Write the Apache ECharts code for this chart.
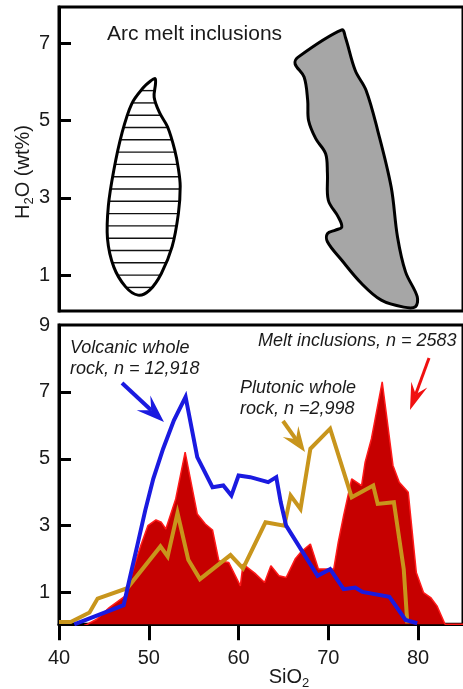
<!DOCTYPE html>
<html>
<head>
<meta charset="utf-8">
<script src="https://cdn.jsdelivr.net/npm/echarts@6/dist/echarts.min.js"></script>
<style>
  html, body { margin: 0; padding: 0; background: #fff; }
  #chart { width: 463px; height: 689px; }
</style>
</head>
<body>
<div id="chart"></div>
<script>
// ---- Upper panel: H2O vs SiO2 fields (outline vertices, wt%) ----
const volcanicFieldSiO2 = [50.7, 50.2, 49.4, 48.1, 47.0, 46.1, 45.5, 45.4, 46.1, 47.4, 48.8, 50.1, 51.4, 52.6, 53.3, 53.5, 53.3, 52.9, 52.1, 51.2, 50.6, 50.75];
const volcanicFieldH2O  = [6.08, 6.02, 5.85, 5.43, 4.66, 3.71, 2.8, 1.95, 1.22, 0.71, 0.49, 0.62, 1.05, 1.74, 2.6, 3.3, 3.75, 4.23, 4.83, 5.2, 5.6, 5.95];

const silicicFieldSiO2 = [71.5, 66.6, 66.3, 67.3, 67.7, 67.8, 68.6, 69.7, 69.9, 70.0, 71.1, 71.5, 70.8, 69.9, 69.9, 71.5, 73.7, 75.9, 78.4, 79.7, 79.9, 78.6, 77.7, 77.0, 75.5, 74.2, 73.0, 71.9];
const silicicFieldH2O  = [7.34, 6.63, 6.46, 6.12, 5.52, 5.0, 4.53, 4.14, 3.63, 2.94, 2.51, 2.25, 2.17, 2.08, 1.87, 1.39, 0.79, 0.36, 0.18, 0.19, 0.45, 1.09, 2.0, 3.28, 4.74, 5.78, 6.29, 7.15];

// ---- Lower panel: SiO2 frequency distributions (%) ----
const meltSiO2 = [42.8, 44.2, 45.6, 47.4, 48.5, 49.1, 49.9, 50.8, 51.4, 51.9, 53.0, 54.05, 55.4, 56.3, 57.1, 57.8, 58.9, 60.2, 60.5, 61.8, 62.9, 63.6, 64.5, 65.3, 66.3, 66.9, 68.0, 68.9, 70.6, 71.1, 71.7, 72.6, 73.7, 74.1, 74.8, 76.0, 77.2, 77.9, 78.9, 79.8, 80.6, 81.4, 82.1, 83.0, 85.0];
const meltFreq = [0.0, 0.2, 0.55, 0.9, 1.9, 2.4, 3.0, 3.17, 3.1, 2.9, 3.8, 5.2, 3.35, 3.05, 2.87, 1.95, 1.9, 1.2, 1.85, 1.58, 1.3, 1.8, 1.5, 1.45, 2.0, 2.2, 2.45, 1.7, 1.7, 2.5, 3.3, 4.4, 4.2, 4.9, 5.6, 7.3, 4.8, 4.3, 4.0, 1.6, 1.0, 0.85, 0.6, 0.05, 0.05];

const volcanicSiO2 = [41.7, 47.2, 47.9, 48.8, 49.6, 50.5, 51.6, 52.8, 54.1, 55.4, 57.1, 58.3, 59.2, 60.0, 61.3, 63.3, 64.2, 64.7, 65.3, 68.8, 70.2, 71.7, 73.0, 73.8, 76.8, 78.6, 79.9];
const volcanicFreq = [0.05, 0.62, 1.45, 2.5, 3.45, 4.4, 5.3, 6.15, 6.85, 5.05, 4.15, 4.2, 3.9, 4.5, 4.45, 4.3, 4.45, 3.7, 3.0, 1.5, 1.7, 1.1, 1.15, 1.02, 0.87, 0.18, 0.08];

const plutonicSiO2 = [40.0, 41.3, 43.4, 44.3, 47.6, 51.3, 52.1, 53.2, 54.4, 55.7, 59.1, 60.5, 63.0, 65.1, 65.8, 66.9, 68.0, 70.2, 72.6, 75.0, 75.5, 77.3, 78.4, 78.8];
const plutonicFreq = [0.12, 0.12, 0.4, 0.82, 1.13, 2.38, 2.08, 3.38, 1.98, 1.4, 2.12, 1.72, 3.1, 3.0, 3.9, 3.5, 5.3, 5.9, 3.85, 4.2, 3.65, 3.7, 1.7, 0.08];

// ---- Axis ticks ----
const sio2Ticks = [40, 50, 60, 70, 80];
const h2oTicks = [1, 3, 5, 7];
const freqTicks = [1, 3, 5, 7, 9];

const FONT = '"Liberation Sans", Arial, Helvetica, sans-serif';
const pairs = (xs, ys) => xs.map((x, i) => [x, ys[i]]);

// polygon outline, optionally hatched with horizontal lines
function fieldRenderer(xs, ys, fill, hatch) {
  return function (params, api) {
    const pts = xs.map((x, i) => api.coord([x, ys[i]]));
    const children = [];
    children.push({
      type: 'polygon',
      shape: { points: pts, smooth: 0.35 },
      style: { fill: fill, stroke: 'none' }
    });
    if (hatch) {
      const yv = pts.map(p => p[1]);
      const top = Math.min.apply(null, yv), bot = Math.max.apply(null, yv);
      for (let y = bot - 7.7; y > top + 6; y -= 12.3) {
        const cross = [];
        for (let i = 0; i < pts.length; i++) {
          const a = pts[i], b = pts[(i + 1) % pts.length];
          if ((a[1] - y) * (b[1] - y) < 0) {
            cross.push(a[0] + (y - a[1]) * (b[0] - a[0]) / (b[1] - a[1]));
          }
        }
        cross.sort((p, q) => p - q);
        for (let k = 0; k + 1 < cross.length; k += 2) {
          children.push({
            type: 'line',
            shape: { x1: cross[k], y1: y, x2: cross[k + 1], y2: y },
            style: { stroke: '#111', lineWidth: 1.4 }
          });
        }
      }
    }
    children.push({
      type: 'polygon',
      shape: { points: pts, smooth: 0.35 },
      style: { fill: 'none', stroke: '#000', lineWidth: 3 }
    });
    return { type: 'group', children: children };
  };
}

function arrow(x1, y1, x2, y2, color, lw, len, half) {
  const dx = x2 - x1, dy = y2 - y1, d = Math.hypot(dx, dy);
  const ux = dx / d, uy = dy / d, px = -uy, py = ux;
  const bx = x2 - ux * len, by = y2 - uy * len;
  const nx = x2 - ux * len * 0.62, ny = y2 - uy * len * 0.62;
  return [
    { type: 'line', z: 50, shape: { x1: x1, y1: y1, x2: nx, y2: ny }, style: { stroke: color, lineWidth: lw } },
    { type: 'polygon', z: 50, shape: { points: [[x2, y2], [bx + px * half, by + py * half], [nx, ny], [bx - px * half, by - py * half]] }, style: { fill: color } }
  ];
}

function label(text, x, y, opts) {
  return Object.assign({
    type: 'text', z: 60, x: x, y: y,
    style: Object.assign({
      text: text, fill: '#1a1a1a', font: 'italic 18px ' + FONT,
      align: 'left', verticalAlign: 'middle'
    }, opts || {})
  });
}

const BLUE = '#1a1ae0';
const GOLD = '#c8951c';

const chart = echarts.init(document.getElementById('chart'), null, { renderer: 'canvas' });

const frameAxis = (grid, min, max) => ({
  type: 'value', gridIndex: grid, min: min, max: max,
  axisLine: { show: false }, axisTick: { show: false }, axisLabel: { show: false }, splitLine: { show: false }
});

const option = {
  animation: false,
  backgroundColor: '#fff',
  grid: [
    { left: 59, top: 7, width: 410.6, height: 304, show: true, borderColor: '#000', borderWidth: 3 },
    { left: 59, top: 325, width: 410.6, height: 299.3, show: true, borderColor: '#000', borderWidth: 3 }
  ],
  xAxis: [
    frameAxis(0, 40, 85),
    {
      type: 'value', gridIndex: 1, min: 40, max: 85,
      axisLine: { show: true, lineStyle: { color: '#000', width: 3 } },
      axisTick: { show: true, inside: false, length: 16, lineStyle: { color: '#000', width: 3 }, customValues: sio2Ticks },
      axisLabel: { show: true, customValues: sio2Ticks, fontSize: 20, fontFamily: FONT, color: '#1a1a1a', margin: 24 },
      splitLine: { show: false }
    }
  ],
  yAxis: [
    {
      type: 'value', gridIndex: 0, min: 0.08, max: 7.93,
      axisLine: { show: true, lineStyle: { color: '#000', width: 3 } },
      axisTick: { show: true, inside: true, length: 12, lineStyle: { color: '#000', width: 3 }, customValues: h2oTicks },
      axisLabel: { show: true, customValues: h2oTicks, fontSize: 20, fontFamily: FONT, color: '#1a1a1a', margin: 9 },
      splitLine: { show: false }
    },
    {
      type: 'value', gridIndex: 0, min: 0.08, max: 7.93,
      axisLine: { show: false },
      axisTick: { show: true, inside: false, length: 4, lineStyle: { color: '#000', width: 3 }, customValues: h2oTicks },
      axisLabel: { show: false }, splitLine: { show: false }
    },
    {
      type: 'value', gridIndex: 1, min: 0.05, max: 9,
      axisLine: { show: true, lineStyle: { color: '#000', width: 3 } },
      axisTick: { show: true, inside: true, length: 12, lineStyle: { color: '#000', width: 3 }, customValues: freqTicks.slice(0, 4) },
      axisLabel: { show: true, customValues: freqTicks, fontSize: 20, fontFamily: FONT, color: '#1a1a1a', margin: 9, padding: [7, 0, 0, 0] },
      splitLine: { show: false }
    },
    {
      type: 'value', gridIndex: 1, min: 0.05, max: 9,
      axisLine: { show: false },
      axisTick: { show: true, inside: false, length: 4, lineStyle: { color: '#000', width: 3 }, customValues: freqTicks.slice(0, 4) },
      axisLabel: { show: false }, splitLine: { show: false }
    }
  ],
  series: [
    {
      name: 'Mafic field', type: 'custom', coordinateSystem: 'cartesian2d',
      xAxisIndex: 0, yAxisIndex: 0, clip: false, z: 3,
      renderItem: fieldRenderer(volcanicFieldSiO2, volcanicFieldH2O, '#fff', true),
      data: [[volcanicFieldSiO2[0], volcanicFieldH2O[0]]]
    },
    {
      name: 'Silicic field', type: 'custom', coordinateSystem: 'cartesian2d',
      xAxisIndex: 0, yAxisIndex: 0, clip: false, z: 3,
      renderItem: fieldRenderer(silicicFieldSiO2, silicicFieldH2O, '#a6a6a6', false),
      data: [[silicicFieldSiO2[0], silicicFieldH2O[0]]]
    },
    {
      name: 'Melt inclusions', type: 'line', xAxisIndex: 1, yAxisIndex: 2,
      data: pairs(meltSiO2, meltFreq), symbol: 'none', z: 2,
      lineStyle: { color: '#ff1a1a', width: 1.5 },
      areaStyle: { color: '#c60000', opacity: 1, origin: 'start' }
    },
    {
      name: 'Plutonic whole rock', type: 'line', xAxisIndex: 1, yAxisIndex: 2,
      data: pairs(plutonicSiO2, plutonicFreq), symbol: 'none', z: 3,
      lineStyle: { color: GOLD, width: 4, join: 'miter' }
    },
    {
      name: 'Volcanic whole rock', type: 'line', xAxisIndex: 1, yAxisIndex: 2,
      data: pairs(volcanicSiO2, volcanicFreq), symbol: 'none', z: 4,
      lineStyle: { color: BLUE, width: 4, join: 'miter' }
    }
  ],
  graphic: [
    { type: 'text', z: 60, x: 107, y: 34,
      style: { text: 'Arc melt inclusions', font: '21px ' + FONT, fill: '#1a1a1a', align: 'left', verticalAlign: 'middle' } },
    { type: 'text', z: 60, x: 23, y: 172, rotation: Math.PI / 2,
      style: { text: 'H{s|2}O (wt%)', font: '20px ' + FONT, fill: '#1a1a1a', align: 'center', verticalAlign: 'middle',
        rich: { s: { font: '13px ' + FONT, fill: '#1a1a1a', padding: [12, 0, 0, 0] } } } },
    { type: 'text', z: 60, x: 289, y: 677,
      style: { text: 'SiO{s|2}', font: '20px ' + FONT, fill: '#1a1a1a', align: 'center', verticalAlign: 'middle',
        rich: { s: { font: '13px ' + FONT, fill: '#1a1a1a', padding: [12, 0, 0, 0] } } } },
    label('Volcanic whole', 70, 347.5),
    label('rock, n = 12,918', 70, 368.5),
    label('Melt inclusions, n = 2583', 258, 341),
    label('Plutonic whole', 240, 388),
    label('rock, n =2,998', 240, 409)
  ].concat(
    arrow(122, 383, 164, 422, BLUE, 4, 28, 10),
    arrow(283, 421, 305, 452, GOLD, 4, 25, 9.5),
    arrow(429, 358, 410, 410, '#f01010', 3, 27, 8.5)
  )
};

chart.setOption(option);
</script>
</body>
</html>
